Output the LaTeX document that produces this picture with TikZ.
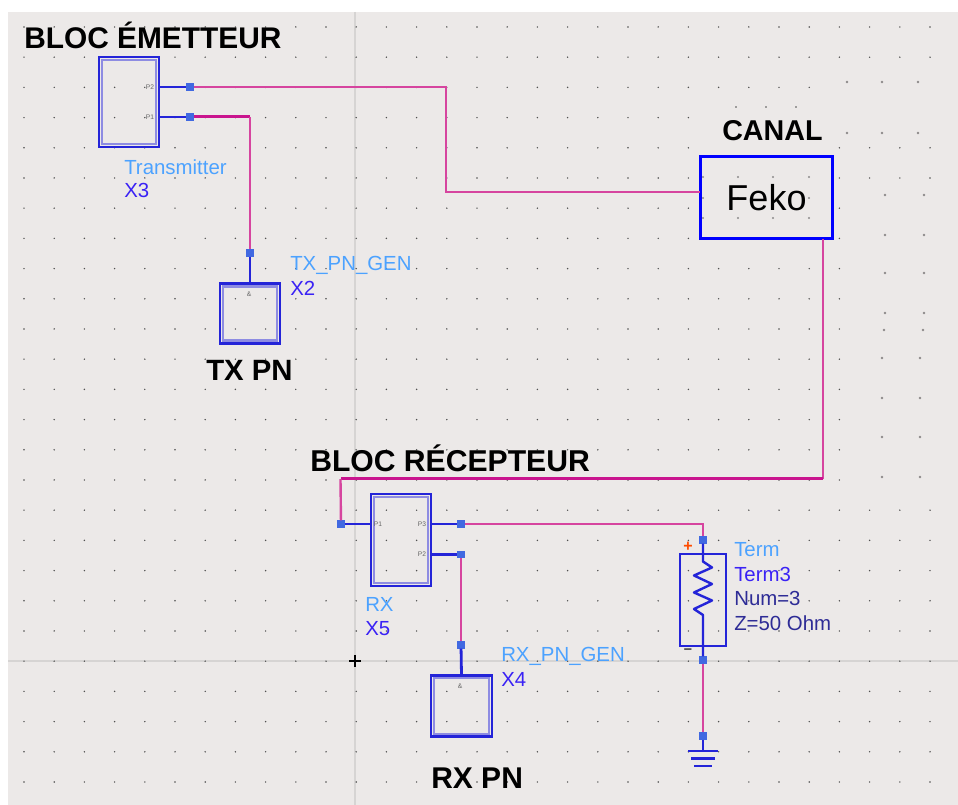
\documentclass[tikz,border=0pt]{standalone}
\usepackage{fontspec}
\setmainfont{Liberation Sans}
\usetikzlibrary{calc}
\newif\ifshowdot
\definecolor{panelbg}{HTML}{ECE9E8}
\definecolor{gridline}{HTML}{D6D4D3}
\definecolor{griddot}{HTML}{505050}
\definecolor{bigdot}{HTML}{8C8A8A}
\definecolor{wirethin}{HTML}{D6459F}
\definecolor{wirethick}{HTML}{C9148E}
\definecolor{symblue}{HTML}{2424D8}
\definecolor{syminner}{HTML}{8E8CE2}
\definecolor{pinblue}{HTML}{4169E1}
\definecolor{lblcyan}{HTML}{4CA2FF}
\definecolor{lblblue}{HTML}{3A22F5}
\definecolor{lbldark}{HTML}{2E2C96}
\tikzset{
  x=0.75pt,y=-0.75pt,
  px/.style={line width=#1*0.75pt},
  wire/.style={wirethin,px=1.8},
  wireheavy/.style={wirethick,px=3},
  stub/.style={symblue,px=2.8},
  pinnode/.style={fill=pinblue,draw=none,minimum size=5.4pt,inner sep=0pt,outer sep=0pt},
  blockbox/.style={draw=symblue,px=2.6,inner sep=0pt,outer sep=0pt,minimum width=45pt,minimum height=#1},
  innerframe/.style={draw=syminner,px=2.2},
  head/.style={anchor=base west,inner sep=0pt,font=\bfseries\fontsize{#1}{#1}\selectfont,text=black},
  lbl/.style={anchor=base west,inner sep=0pt,font=\fontsize{15.3}{15.3}\selectfont,text=#1},
  tiny/.style={inner sep=0pt,font=\fontsize{5}{5}\selectfont,text=black!60},
}
\newcommand{\frameinside}[1]{\draw[innerframe] ($(#1.north west)+(3,3)$) rectangle ($(#1.south east)+(-3,-3)$);}
\begin{document}
\begin{tikzpicture}
\useasboundingbox (0,0) rectangle (958,805);
\fill[white] (0,0) rectangle (958,805);
\fill[panelbg] (8,12) rectangle (958,805);
% crosshair lines
\draw[gridline,px=1.2] (355,12) -- (355,805);
\draw[gridline,px=1.2] (8,661) -- (958,661);
% grid
\foreach \i in {0,...,30}{\foreach \j in {0,...,25}{%
  \showdottrue
  \ifnum\i>22 \ifnum\i<27 \ifnum\j>2 \ifnum\j<8 \showdotfalse\fi\fi\fi\fi
  \ifnum\i>26
    \ifnum\j=2 \showdotfalse\fi
    \ifnum\j=3 \showdotfalse\fi
    \ifnum\i>27 \ifnum\j>5 \ifnum\j<16 \showdotfalse\fi\fi\fi
  \fi
  \ifshowdot \fill[griddot] ({24+30.2*\i},{27+30.2*\j}) circle (0.6pt);\fi
}}
\foreach \p in {(736,107),(766,107),(796,107)} \fill[griddot] \p circle (0.6pt);
\foreach \p in {(847,82),(882,82),(918,82),(847,133),(882,133),(918,133),
  (885,195),(924,195),(885,235),(924,235),(885,273),(924,273),(885,313),(924,313),
  (884,330),(923,330),(882,358),(920,358),(882,398),(920,398),(882,437),(920,437),(882,477),(920,477)}
  \fill[bigdot] \p circle (1.1pt);
\foreach \x in {703,738,773,809}\foreach \y in {177,198,218}\fill[bigdot] (\x,\y) circle (0.9pt);
% crosshair mark
\draw[black,px=1.2] (349,661) -- (361,661) (355,655) -- (355,667);
% blocks
\node[blockbox=67.5pt] (tx) at (129,102) {};
\frameinside{tx}
\node[blockbox=45pt] (txpn) at (250,313.5) {};
\frameinside{txpn}
\node[blockbox=69pt] (rx) at (401,540) {};
\frameinside{rx}
\node[blockbox=46pt,minimum width=45.5pt] (rxpn) at (461.5,706) {};
\frameinside{rxpn}
\node[draw=blue,px=3,minimum width=99pt,minimum height=61.5pt,inner sep=0pt,outer sep=0pt,
  font=\fontsize{27}{27}\selectfont] (canal) at (766.5,198) {\raisebox{-1.5pt}{Feko}};
\node[draw=symblue,px=2.4,minimum width=34.5pt,minimum height=69pt,inner sep=0pt,outer sep=0pt] (term) at (703,600) {};
% pins
\node[pinnode] (txp2) at (190,87) {};
\node[pinnode] (txp1) at (190,117) {};
\node[pinnode] (txpnpin) at (250,253) {};
\node[pinnode] (rxp1) at (341,524) {};
\node[pinnode,minimum width=6pt] (rxp3) at (461,524) {};
\node[pinnode] (rxp2) at (461,554.5) {};
\node[pinnode] (rxpnpin) at (461,645) {};
\node[pinnode] (termtop) at (703,540) {};
\node[pinnode] (termbot) at (703,660) {};
\node[pinnode] (gndpin) at (703,736) {};
\coordinate (j1) at (446,140);
\coordinate (canalin) at (700,192);
\coordinate (canalout) at (823,239);
\coordinate (j2) at (823,479);
\coordinate (j3) at (340.5,479);
\coordinate (j4) at (250,117);
\coordinate (j5) at (703,524);
\coordinate (gnd) at (703,751);
% wires
\draw[wire,line join=miter] (txp2) -| (j1) |- (canalin);
\draw[wireheavy] (txp1) -- (j4);
\draw[wire] (j4) -- (txpnpin);
\draw[wire,px=2.2] (canalout) -- (j2);
\draw[wireheavy] (j2) -- (j3);
\draw[wire,px=2.4] (j3) -- (rxp1);
\draw[wire] (rxp3) -| (j5) -- (termtop);
\draw[wire] (rxp2) -- (rxpnpin);
\draw[wire] (termbot) -- (gndpin);
% stubs
\draw[stub] (txp2 -| tx.east) -- (txp2);
\draw[stub] (txp1 -| tx.east) -- (txp1);
\draw[stub] (txpnpin) -- (txpn.north);
\draw[stub] (rxp1) -- (rxp1 -| rx.west);
\draw[stub] (rxp3 -| rx.east) -- (rxp3);
\draw[stub] (rxp2 -| rx.east) -- (rxp2);
\draw[stub] (rxpnpin) -- (rxpn.north);
\draw[stub] (gndpin) -- (gnd);
% resistor
\draw[symblue,px=2.4,line join=round] (termtop) -- (703,561.5) -- (712,567.5) -- (694,575.5) -- (712,584) -- (694,592.5) -- (712,600.5) -- (694,609) -- (703,615) -- (termbot);
% ground
\draw[symblue,px=2.4] (688,751) -- (718,751) (691,758.5) -- (715,758.5) (694,766) -- (712,766);
% polarity
\node[inner sep=0pt,font=\bfseries\fontsize{12}{12}\selectfont,text=orange!60!red] (plus) at (688,547) {+};
\node[inner sep=0pt,font=\bfseries\fontsize{11}{11}\selectfont,text=black!80] (minus) at (688,651) {–};
% port labels
\node[tiny] (lp2) at (150,87) {P2};
\node[tiny] (lp1) at (150,117) {P1};
\node[tiny] (lrp1) at (378,524) {P1};
\node[tiny] (lrp3) at (422,524) {P3};
\node[tiny] (lrp2) at (422,554.5) {P2};
\node[tiny] (ltp) at (249,294) {\&};
\node[tiny] (lrxp) at (460,686) {\&};
% headings
\node[head=22.4] (h1) at (24,49) {BLOC ÉMETTEUR};
\node[head=22] (h2) at (206,381) {TX PN};
\node[head=21.5] (h3) at (722,141) {CANAL};
\node[head=22.6] (h4) at (310,472) {BLOC RÉCEPTEUR};
\node[head=22.5] (h5) at (431,788) {RX PN};
% labels
\node[lbl=lblcyan] (t1) at (124,175) {Transmitter};
\node[lbl=lblblue] (t2) at (124,198) {X3};
\node[lbl=lblcyan] (t3) at (290,270.5) {TX\_PN\_GEN};
\node[lbl=lblblue] (t4) at (290,295.5) {X2};
\node[lbl=lblcyan] (t5) at (365,611.5) {RX};
\node[lbl=lblblue] (t6) at (365,636) {X5};
\node[lbl=lblcyan] (t7) at (501,661.5) {RX\_PN\_GEN};
\node[lbl=lblblue] (t8) at (501,687) {X4};
\node[lbl=lblcyan] (t9) at (734,556.5) {Term};
\node[lbl=lblblue] (t10) at (734,581.5) {Term3};
\node[lbl=lbldark] (t11) at (734,605.5) {Num=3};
\node[lbl=lbldark] (t12) at (734,631) {Z=50 Ohm};
\end{tikzpicture}
\end{document}
